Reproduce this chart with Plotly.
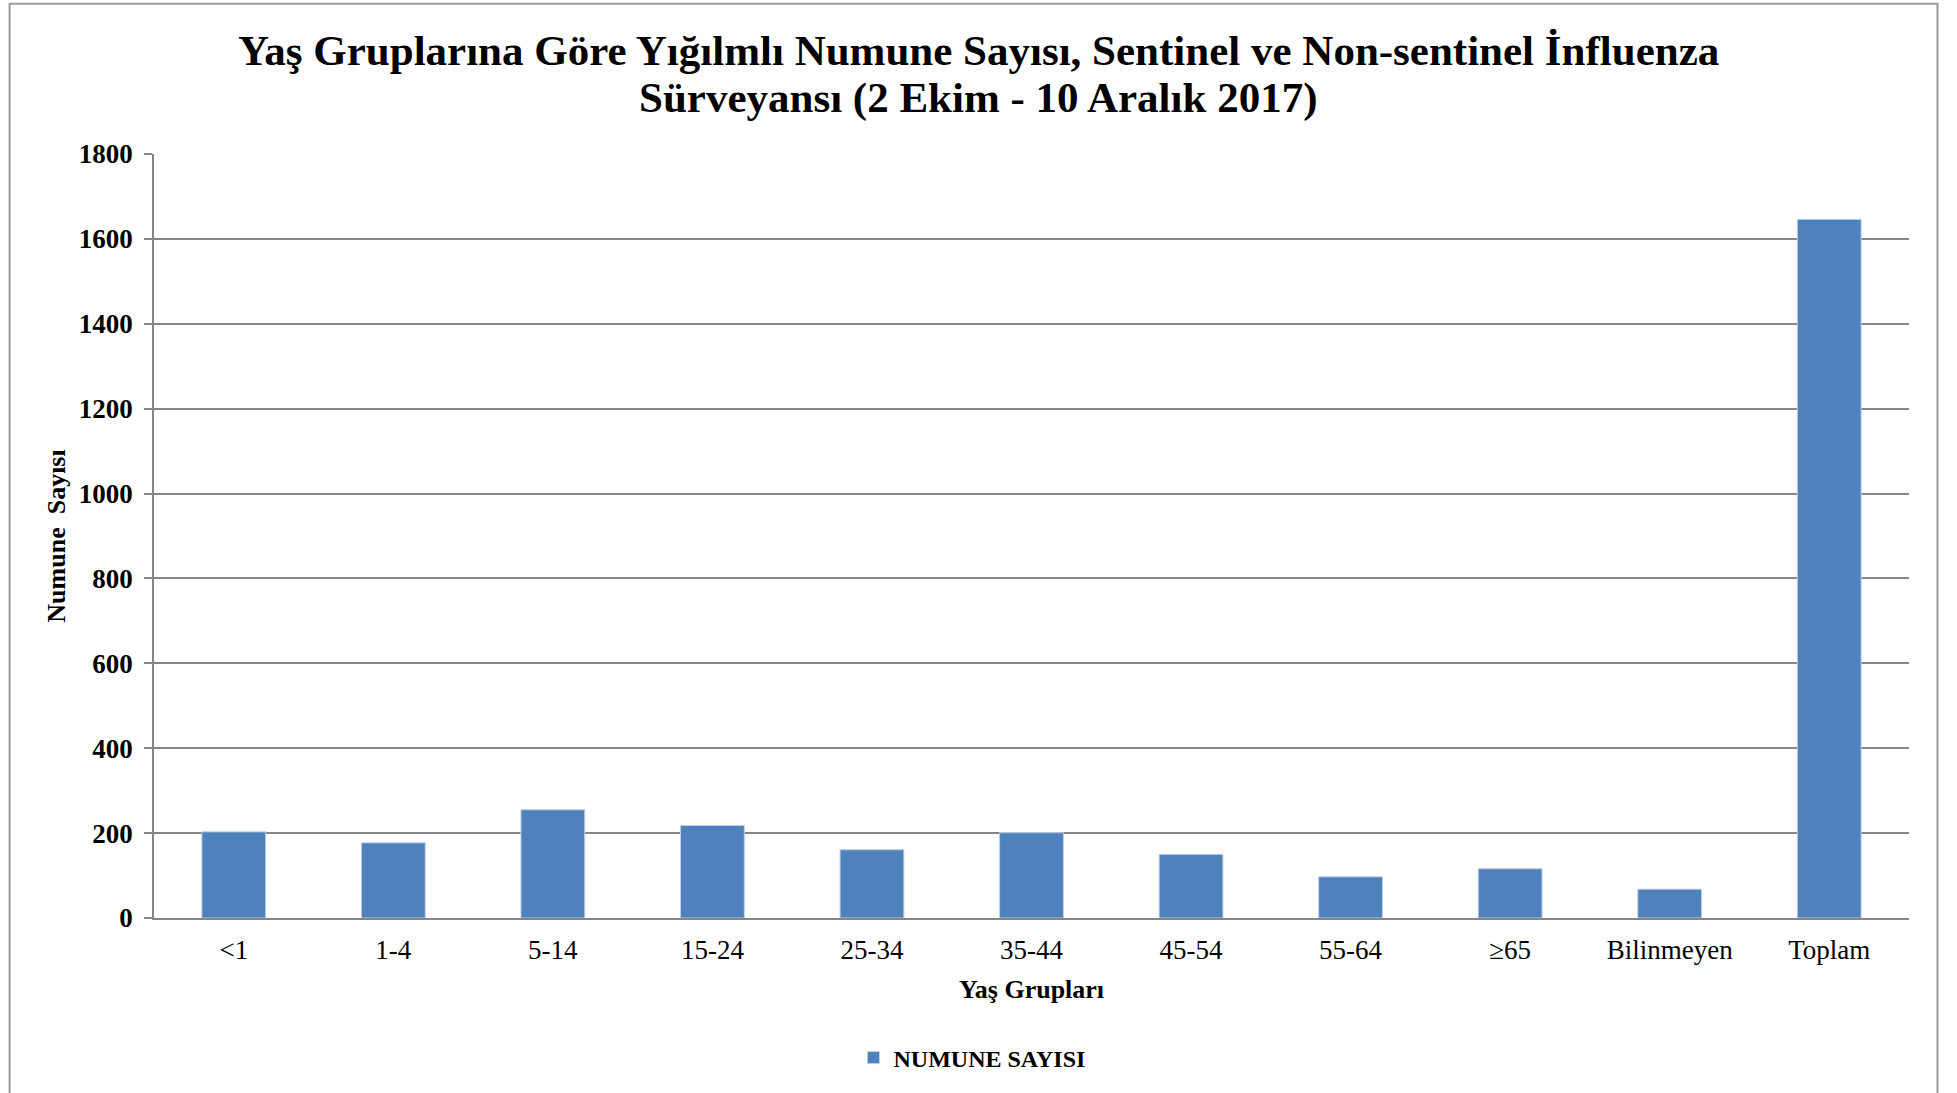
import plotly.graph_objects as go

categories = ["<1", "1-4", "5-14", "15-24", "25-34", "35-44", "45-54", "55-64", "≥65", "Bilinmeyen", "Toplam"]
numune_sayisi = [203, 177, 255, 218, 161, 201, 150, 97, 116, 68, 1646]
y_ticks = [0, 200, 400, 600, 800, 1000, 1200, 1400, 1600, 1800]

title_line1 = "Yaş Gruplarına Göre Yığılmlı Numune Sayısı, Sentinel ve Non-sentinel İnfluenza"
title_line2 = "Sürveyansı (2 Ekim - 10 Aralık 2017)"

# body margin is removed by post_script, so the figure fills the window
W, H = 1957, 1093
PX0, PX1, PY0, PY1 = 153.5, 1909.5, 153.5, 918.5
L, R, T, B = PX0, W - PX1, PY0, H - PY1
pw, ph = W - L - R, H - T - B

def px_x(x):
    return (x - L) / pw

def px_y(y):
    return (H - B - y) / ph

FONT = "Liberation Serif, Times New Roman, serif"
GRID = "#868686"

fig = go.Figure()
fig.add_trace(go.Bar(
    x=categories, y=numune_sayisi, name="NUMUNE SAYISI",
    marker=dict(color="#4F81BD", line=dict(color="#BFD0E6", width=1)),
))

fig.update_layout(
    width=W, height=H,
    margin=dict(l=L, r=R, t=T, b=B, autoexpand=False),
    paper_bgcolor="white", plot_bgcolor="white",
    bargap=0.6,
    font=dict(family=FONT, color="black"),
    showlegend=True,
    legend=dict(orientation="h", xref="container", yref="container",
                x=972 / W, xanchor="center", y=1 - 1058 / H, yanchor="middle",
                font=dict(family=FONT, size=24, weight="bold", color="black"),
                itemwidth=30),
    xaxis=dict(
        showline=True, linecolor=GRID, linewidth=2,
        ticks="", ticklabelstandoff=7,
        tickfont=dict(family=FONT, size=27, color="black"),
        title=dict(text="Yaş Grupları", font=dict(family=FONT, size=26, weight="bold", color="black"), standoff=15),
    ),
    yaxis=dict(
        range=[0, 1800], tickvals=y_ticks,
        showgrid=True, gridcolor=GRID, gridwidth=1.5,
        showline=True, linecolor=GRID, linewidth=1.5,
        ticks="outside", ticklen=8, tickcolor=GRID, tickwidth=1.5,
        ticklabelstandoff=6,
        tickfont=dict(family=FONT, size=27, weight="bold", color="black"),
        title=dict(text="Numune\u00a0\u00a0Sayısı", font=dict(family=FONT, size=26, weight="bold", color="black"), standoff=6),
    ),
    annotations=[
        dict(text=title_line1, xref="paper", yref="paper", x=px_x(1957 / 2), y=px_y(50),
             xanchor="center", yanchor="middle", showarrow=False,
             font=dict(family=FONT, size=43, weight="bold", color="black")),
        dict(text=title_line2, xref="paper", yref="paper", x=px_x(1957 / 2), y=px_y(97),
             xanchor="center", yanchor="middle", showarrow=False,
             font=dict(family=FONT, size=43, weight="bold", color="black")),
    ],
    shapes=[
        dict(type="rect", xref="paper", yref="paper",
             x0=px_x(9), x1=px_x(1938), y0=px_y(1093 + 20), y1=px_y(3),
             line=dict(color="#9a9a9a", width=2), fillcolor="rgba(0,0,0,0)", layer="below"),
    ],
)

fig.write_html(
    "out.html",
    config={"displayModeBar": False},
    post_script="document.body.style.margin='0';document.body.style.overflow='hidden';",
)
